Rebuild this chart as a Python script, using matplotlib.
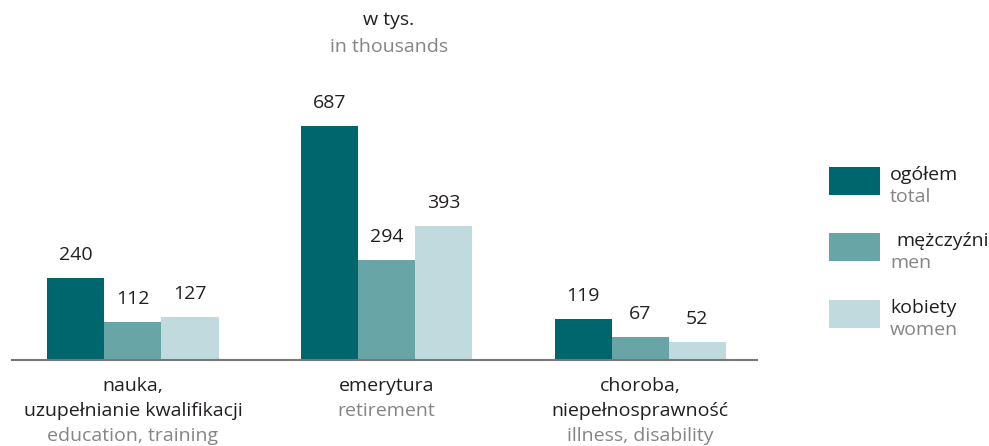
import matplotlib.pyplot as plt
import matplotlib.patches as patches
import numpy as np

plt.rcParams['font.family'] = ['Open Sans', 'DejaVu Sans']

categories_pl = ['nauka,\nuzupełnianie kwalifikacji', 'emerytura', 'choroba,\nniepełnosprawność']
categories_en = ['education, training', 'retirement', 'illness, disability']
series_pl = ['ogółem', 'mężczyźni', 'kobiety']
series_en = ['total', 'men', 'women']
total = [240, 687, 119]
men = [112, 294, 67]
women = [127, 393, 52]

colors = ['#00666e', '#67a5a6', '#c0dadd']
dark = '#231f20'
grey = '#858585'

W, H = 989, 446
fig = plt.figure(figsize=(W / 100, H / 100), dpi=100)
ax = fig.add_axes([12 / W, 86 / H, 745 / W, 300 / H])

x = np.arange(len(categories_pl))
bw = 0.225
for i, vals in enumerate([total, men, women]):
    bars = ax.bar(x + (i - 1) * bw, vals, bw, color=colors[i], linewidth=0)
    for b, v in zip(bars, vals):
        ax.annotate(str(v), (b.get_x() + b.get_width() / 2, v), xytext=(0, 23),
                    textcoords='offset pixels', ha='center', va='center',
                    fontsize=14, color=dark)

ax.set_xlim(-0.477, 2.461)
ax.set_ylim(0, 880)
for s in ['top', 'right', 'left']:
    ax.spines[s].set_visible(False)
ax.spines['bottom'].set_color('#777777')
ax.spines['bottom'].set_linewidth(1.5)
ax.set_xticks([])
ax.set_yticks([])

# category labels (polish dark, english grey)
for xi, pl, en in zip(x, categories_pl, categories_en):
    lines = pl.split('\n') + [en]
    for j, ln in enumerate(lines):
        ax.annotate(ln, (xi, 0), xycoords=('data', 'axes fraction'),
                    xytext=(0, -26 - 25 * j), textcoords='offset pixels',
                    ha='center', va='center', fontsize=14,
                    color=grey if j == len(lines) - 1 else dark)

# title
fig.text(389 / W, 1 - 20 / H, 'w tys.', ha='center', va='center', fontsize=14, color=dark)
fig.text(389 / W, 1 - 47 / H, 'in thousands', ha='center', va='center', fontsize=14, color=grey)

# legend
leg_y = [181, 247, 314]
for c, pl, en, yc, dx in zip(colors, series_pl, series_en, leg_y, [0, 6, 0]):
    fig.add_artist(patches.Rectangle((829 / W, 1 - (yc + 14) / H), 51 / W, 28 / H,
                                     transform=fig.transFigure, color=c, linewidth=0))
    fig.text((890 + dx) / W, 1 - (yc - 6) / H, pl, ha='left', va='center', fontsize=14, color=dark)
    fig.text(890 / W, 1 - (yc + 16) / H, en, ha='left', va='center', fontsize=14, color=grey)

fig.savefig('out.png', dpi=100)
